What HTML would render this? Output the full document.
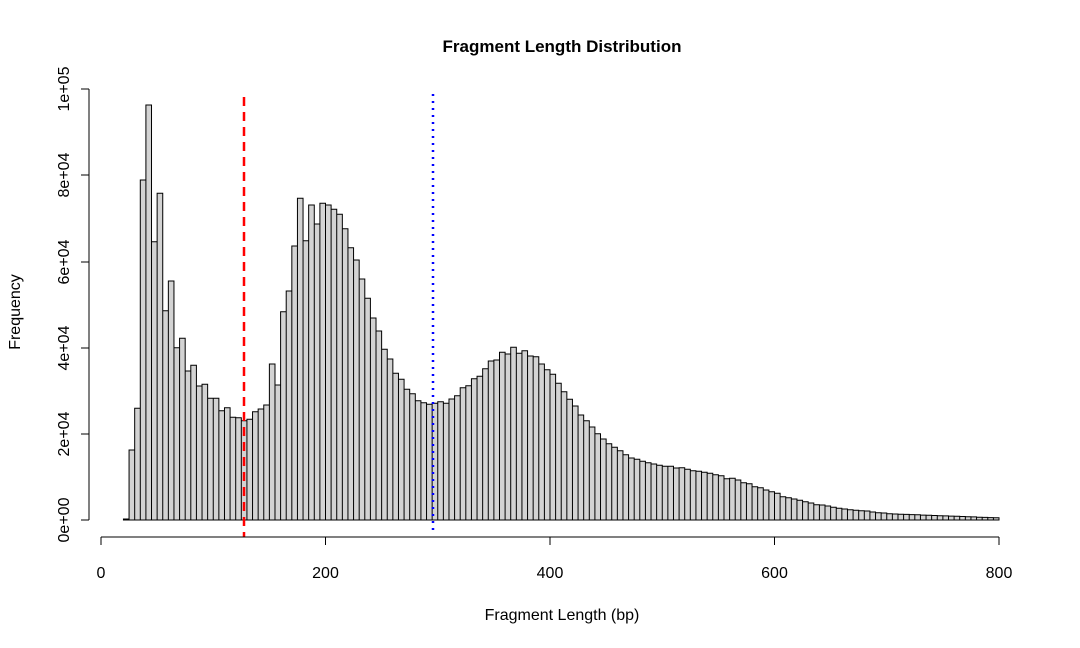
<!DOCTYPE html>
<html><head><meta charset="utf-8"><style>
html,body{margin:0;padding:0;background:#fff;}
svg{display:block;font-family:"Liberation Sans",Arial,sans-serif;}
</style></head><body>
<svg id="s" width="1080" height="648" viewBox="0 0 1080 648" xmlns="http://www.w3.org/2000/svg">
<rect width="1080" height="648" fill="#fff"/>
<text x="562" y="52" text-anchor="middle" font-size="17" font-weight="bold">Fragment Length Distribution</text>
<g id="bars"></g>
<line x1="244" y1="97" x2="244" y2="537" stroke="#f00" stroke-width="2.5" stroke-dasharray="9,6"/>
<line x1="433" y1="94" x2="433" y2="530" stroke="#00f" stroke-width="2.5" stroke-dasharray="2,5"/>
<g stroke="#000" stroke-width="1" fill="none">
<line x1="89" y1="89" x2="89" y2="520"/>
<line x1="81" y1="520" x2="89" y2="520"/><line x1="81" y1="434" x2="89" y2="434"/><line x1="81" y1="348" x2="89" y2="348"/><line x1="81" y1="262" x2="89" y2="262"/><line x1="81" y1="175" x2="89" y2="175"/><line x1="81" y1="89" x2="89" y2="89"/>
<line x1="101" y1="537" x2="999" y2="537"/>
<line x1="101" y1="537" x2="101" y2="545"/><line x1="325.5" y1="537" x2="325.5" y2="545"/><line x1="550" y1="537" x2="550" y2="545"/><line x1="774.5" y1="537" x2="774.5" y2="545"/><line x1="999" y1="537" x2="999" y2="545"/>
</g>
<g font-size="16" text-anchor="middle">
<text x="101" y="578">0</text><text x="325.5" y="578">200</text><text x="550" y="578">400</text><text x="774.5" y="578">600</text><text x="999" y="578">800</text>
<text transform="translate(69,520) rotate(-90)">0e+00</text>
<text transform="translate(69,434) rotate(-90)">2e+04</text>
<text transform="translate(69,348) rotate(-90)">4e+04</text>
<text transform="translate(69,262) rotate(-90)">6e+04</text>
<text transform="translate(69,175) rotate(-90)">8e+04</text>
<text transform="translate(69,89) rotate(-90)">1e+05</text>
<text transform="translate(20,312) rotate(-90)">Frequency</text>
<text x="562" y="620">Fragment Length (bp)</text>
</g>
</svg>
<script>
var tops=[519,450,408.3,180,105,241.7,193.3,310.7,281,347.7,338.3,371,365.3,386,384.3,398.3,398.3,410.7,407.7,417.3,417.7,420.7,419.3,411.7,409,405,364,385,311.7,291,246,198.3,240.7,205,224,203.3,205,209.3,214.3,228.7,247.7,260,279,298.3,318,331,349.3,359,373.3,379.3,389.3,393.7,400.7,402.7,404.3,403.3,401.7,403.3,399,395.7,387.7,385.7,378.7,376.3,368.7,361,360,352.3,354,347.3,353.3,350.7,356,356.7,364,369.7,374.3,383.3,391.7,399.3,406,415,420.7,427,433.7,439,443.7,447.3,450.7,454.7,458,459.3,461.3,462.7,464,465.3,466.3,466.3,468,467.7,469.3,470.7,471.3,472.3,473.3,474.7,475.7,478.7,478.3,480,482.7,483.7,486.7,487.7,490,491.7,493.3,496.7,497.7,499,500.3,501.7,503,504.7,505,506,507.3,508.3,509,509.7,510.3,510.7,511,512,512.7,513,513.7,514];
var last=514;while(tops.length<156){last+=0.21;tops.push(last.toFixed(1)*1);}
var d="";
for(var i=0;i<tops.length;i++){var u=20+5*i;var x0=101+u*1.1225,x1=x0+5.6125;
d+="M"+x0.toFixed(2)+" 520V"+tops[i]+"H"+x1.toFixed(2)+"V520Z";}
var p=document.createElementNS("http://www.w3.org/2000/svg","path");
p.setAttribute("d",d);p.setAttribute("fill","#d3d3d3");p.setAttribute("stroke","#000");p.setAttribute("stroke-width","1");
document.getElementById("bars").appendChild(p);
</script>
</body></html>
